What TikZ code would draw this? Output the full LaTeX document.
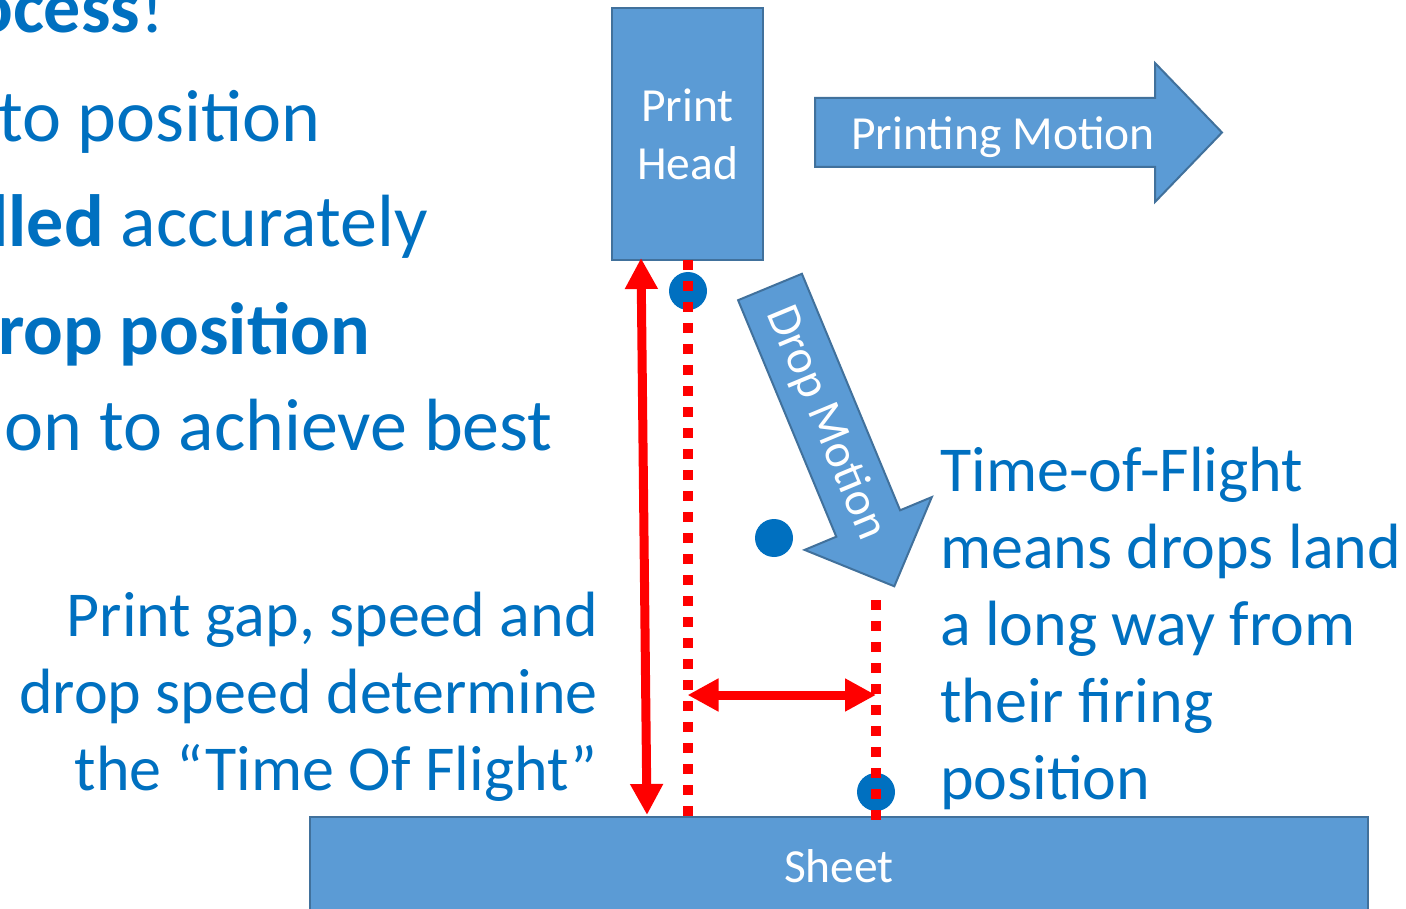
\documentclass[tikz,border=0pt]{standalone}
\usepackage{fontspec}
\setmainfont{Carlito}
\usetikzlibrary{positioning,arrows.meta,calc}
\definecolor{txtblue}{HTML}{0070C0}
\definecolor{boxfill}{HTML}{5B9BD5}
\definecolor{boxline}{HTML}{41719C}

\begin{document}
\begin{tikzpicture}[x=1pt, y=-1pt,
  shapebox/.style={fill=boxfill, draw=boxline, line width=2pt},
  boxtext/.style={text=white, font=\fontsize{47.5}{58}\selectfont},
  slidetext/.style={text=txtblue, font=\fontsize{74}{88}\selectfont, inner sep=0pt},
  notetext/.style={text=txtblue, font=\fontsize{64}{77}\selectfont, inner sep=0pt},
  dropdot/.style={circle, fill=txtblue, minimum size=38pt, inner sep=0pt},
  gapline/.style={red, line width=10pt, dash pattern=on 10pt off 11pt},
  gaparrow/.style={red, line width=9pt,
    {Triangle[length=31pt,width=31pt]}-{Triangle[length=31pt,width=31pt]}}
]
  \useasboundingbox (0,0) rectangle (1406,909);

  % Slide text cut at the left edge
  \node[slidetext, anchor=base west] (l1) at (-27,33) {\textbf{ocess}!};
  \node[slidetext, anchor=base west] (l2) at (-2,142) {to position};
  \node[slidetext, anchor=base east] (l3) at (428,247) {\textbf{lled} accurately};
  \node[slidetext, anchor=base east] (l4) at (370,355) {\textbf{rop position}};
  \node[slidetext, anchor=base east] (l5) at (553,450) {on to achieve best};

  % Print head and sheet
  \node[shapebox, boxtext, outer sep=0pt, minimum width=151pt, minimum height=252pt,
    align=center] (head) at (687.5,134) {Print\\Head};
  \node[shapebox, boxtext, outer sep=0pt, minimum width=1058pt, minimum height=98pt]
    (sheet) at (839,866) {Sheet};

  % Printing motion arrow
  \draw[shapebox] (815,98) -- (1155,98) -- (1155,63) -- (1222,132.5)
    -- (1155,202) -- (1155,167) -- (815,167) -- cycle;
  \node[boxtext, anchor=base] (printing) at (1003,150) {Printing Motion};

  % Drop motion arrow
  \draw[shapebox] (738.1,300.2) -- (801.9,273.8) -- (900.1,510.3) -- (931.8,497.1)
    -- (894.3,586.3) -- (804.6,549.9) -- (836.3,536.7) -- cycle;
  \node[boxtext, rotate=-67.4] (drop) at (826,423) {Drop Motion};

  % Drops
  \node[dropdot] (dot1) at (688,291) {};
  \node[dropdot] (dot2) at (774,538) {};
  \node[dropdot] (dot3) at (876,792) {};

  % Firing and landing lines
  \coordinate (landtop) at (876,600);
  \coordinate (landbot) at (876,822);
  \draw[gapline] (head.south) -- (head.south |- sheet.north);
  \draw[gapline] (landtop) -- (landbot);

  % Print gap and offset
  \coordinate (gaptop) at (641,258);
  \coordinate (gapbot) at (647,815);
  \draw[gaparrow] (gaptop) -- (gapbot);
  \draw[gaparrow] (head.south |- 0,695) -- (landtop |- 0,695);

  % Notes
  \node[notetext, anchor=north east, align=right] (gapnote) at (598,592)
    {Print gap, speed and\\drop speed determine\\the “Time Of Flight”};
  \node[notetext, anchor=north west, align=left] (flightnote) at (940,447)
    {Time-of-Flight\\means drops land\\a long way from\\their firing\\position};
\end{tikzpicture}
\end{document}
